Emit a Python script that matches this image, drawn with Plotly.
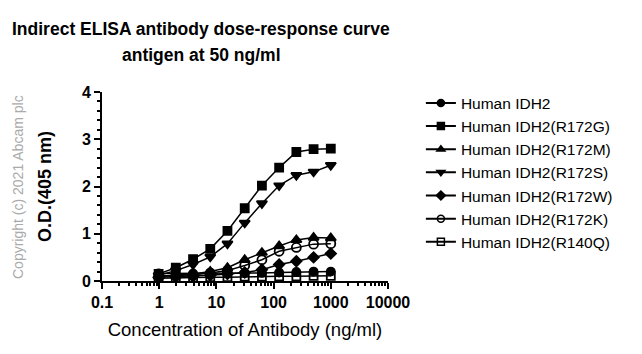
import plotly.graph_objects as go

conc = [0.977, 1.95, 3.91, 7.81, 15.6, 31.25, 62.5, 125, 250, 500, 1000]

names = ["Human IDH2", "Human IDH2(R172G)", "Human IDH2(R172M)", "Human IDH2(R172S)",
         "Human IDH2(R172W)", "Human IDH2(R172K)", "Human IDH2(R140Q)"]

idh2 = [0.16, 0.16, 0.16, 0.17, 0.17, 0.17, 0.17, 0.18, 0.19, 0.20, 0.20]
r172g = [0.15, 0.28, 0.46, 0.68, 1.06, 1.54, 2.02, 2.40, 2.73, 2.79, 2.80]
r172m = [0.10, 0.12, 0.15, 0.20, 0.28, 0.45, 0.60, 0.74, 0.87, 0.92, 0.91]
r172s = [0.12, 0.22, 0.35, 0.51, 0.79, 1.23, 1.64, 2.02, 2.24, 2.31, 2.45]
r172w = [0.08, 0.09, 0.10, 0.12, 0.15, 0.18, 0.24, 0.35, 0.42, 0.50, 0.58]
r172k = [0.10, 0.11, 0.13, 0.17, 0.22, 0.33, 0.45, 0.63, 0.71, 0.78, 0.79]
r140q = [0.06, 0.07, 0.07, 0.08, 0.08, 0.09, 0.09, 0.10, 0.10, 0.11, 0.11]

xticks = [0.1, 1, 10, 100, 1000, 10000]
xticklabels = ["0.1", "1", "10", "100", "1000", "10000"]
yticks = [0, 1, 2, 3, 4]

series = [idh2, r172g, r172m, r172s, r172w, r172k, r140q]
symbols = ["circle", "square", "triangle-up", "triangle-down", "diamond", "circle-open", "square-open"]
sizes = [8, 8, 9, 9, 8, 9, 8]

fig = go.Figure()
for n, ys, sym, sz in zip(names, series, symbols, sizes):
    fig.add_trace(go.Scatter(
        x=conc, y=ys, name=n, mode="lines+markers", showlegend=False,
        line=dict(color="black", width=1.5),
        marker=dict(symbol=sym, size=sz, color="black", line=dict(color="black", width=1.8)),
    ))
# legend entries with smaller symbols, as in the reference
for n, sym in zip(names, symbols):
    fig.add_trace(go.Scatter(
        x=[None], y=[None], name=n, mode="lines+markers", showlegend=True,
        line=dict(color="black", width=2),
        marker=dict(symbol=sym, size=7, color="black", line=dict(color="black", width=1.5)),
    ))

fig.update_layout(
    width=642, height=354,
    margin=dict(l=102, r=254, t=92, b=73),
    paper_bgcolor="white", plot_bgcolor="white",
    showlegend=True,
    font=dict(family="Arial, Liberation Sans, sans-serif", color="black"),
    legend=dict(x=1.115, y=1.03, xanchor="left", yanchor="top",
                font=dict(size=15.5, color="black"), itemwidth=30,
                bgcolor="rgba(0,0,0,0)", tracegroupgap=0),
    xaxis=dict(type="log", range=[-1, 4], showgrid=False, zeroline=False,
               showline=True, linecolor="black", linewidth=2,
               ticks="outside", ticklen=6, tickwidth=2, tickcolor="black",
               tickvals=xticks,
               ticktext=["<b>%s</b>" % t for t in xticklabels],
               tickfont=dict(size=16),
               minor=dict(ticks="outside", ticklen=3, tickwidth=1.5, tickcolor="black",
                          tickvals=[m * 10 ** d for d in range(-1, 4) for m in range(2, 10)]),
               title=dict(text="Concentration of Antibody (ng/ml)", font=dict(size=18.5), standoff=13)),
    yaxis=dict(range=[0, 4], showgrid=False, zeroline=False,
               showline=True, linecolor="black", linewidth=2,
               ticks="outside", ticklen=6, tickwidth=2, tickcolor="black",
               tickvals=yticks,
               ticktext=["<b>%d</b>" % t for t in yticks],
               tickfont=dict(size=16),
               minor=dict(ticks="outside", ticklen=3, tickwidth=1.5, tickcolor="black", dtick=0.2),
               title=dict(text="<b>O.D.(405 nm)</b>", font=dict(size=18), standoff=26)),
)

title_font = dict(size=17.5, family="Arial, Liberation Sans, sans-serif")
fig.add_annotation(text="<b>Indirect ELISA antibody dose-response curve</b>",
                   xref="paper", yref="paper", x=(201 - 102) / 286, y=(281 - 29) / 189,
                   showarrow=False, font=title_font, xanchor="center", yanchor="middle")
fig.add_annotation(text="<b>antigen at 50 ng/ml</b>",
                   xref="paper", yref="paper", x=(201 - 102) / 286, y=(281 - 55) / 189,
                   showarrow=False, font=title_font, xanchor="center", yanchor="middle")

fig.add_annotation(text="Copyright (c) 2021 Abcam plc", xref="paper", yref="paper",
                   x=-(102 - 18) / 286, y=(281 - 187) / 189, showarrow=False, textangle=-90,
                   font=dict(size=14, color="#aaaaaa"), xanchor="center", yanchor="middle")

fig.write_html("out.html")
